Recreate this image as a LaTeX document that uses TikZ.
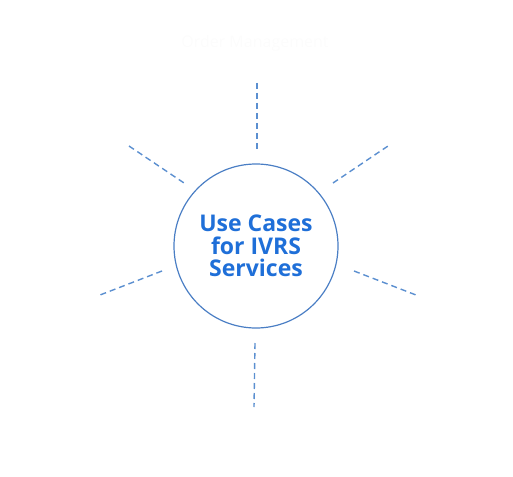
\documentclass[tikz,border=0pt]{standalone}
\usepackage{fontspec}
\setsansfont{Open Sans}
\usepackage{xcolor}
\definecolor{ivrsblue}{HTML}{1F6FD8}
\definecolor{rayblue}{HTML}{5B8FD0}
\definecolor{ringblue}{HTML}{4A7EC4}
\definecolor{ghost}{HTML}{FCFCFC}
\begin{document}
\begin{tikzpicture}[x=1pt,y=-1pt,
    ray/.style={rayblue,line width=1.4pt,dash pattern=on 6pt off 4pt},
    hub/.style={circle,draw=ringblue,line width=1.2pt,minimum size=164pt,inner sep=0pt,align=center,text=ivrsblue,font=\sffamily\bfseries\fontsize{23}{22.5}\selectfont}]
    \useasboundingbox (0,0) rectangle (513,476);
    \node[hub] (uc) at (256,246) {Use Cases\\for IVRS\\Services};
    \node[text=ghost,font=\sffamily\fontsize{16}{18}\selectfont] (om) at (255,43) {Order Management};
    \coordinate (n1) at (257,83);
    \coordinate (n2) at (257,149);
    \coordinate (s1) at (255,343);
    \coordinate (s2) at (254,407);
    \coordinate (nw1) at (129,146);
    \coordinate (nw2) at (184,183);
    \coordinate (sw1) at (162,271);
    \coordinate (sw2) at (100,295);
    \coordinate (ne1) at (333,183);
    \coordinate (ne2) at (388,146);
    \coordinate (se1) at (354,271);
    \coordinate (se2) at (416,295);
    \draw [ray] (n1) -- (n2);
    \draw [ray] (s1) -- (s2);
    \draw [ray] (nw1) -- (nw2);
    \draw [ray] (sw1) -- (sw2);
    \draw [ray] (ne1) -- (ne2);
    \draw [ray] (se1) -- (se2);
\end{tikzpicture}
\end{document}
